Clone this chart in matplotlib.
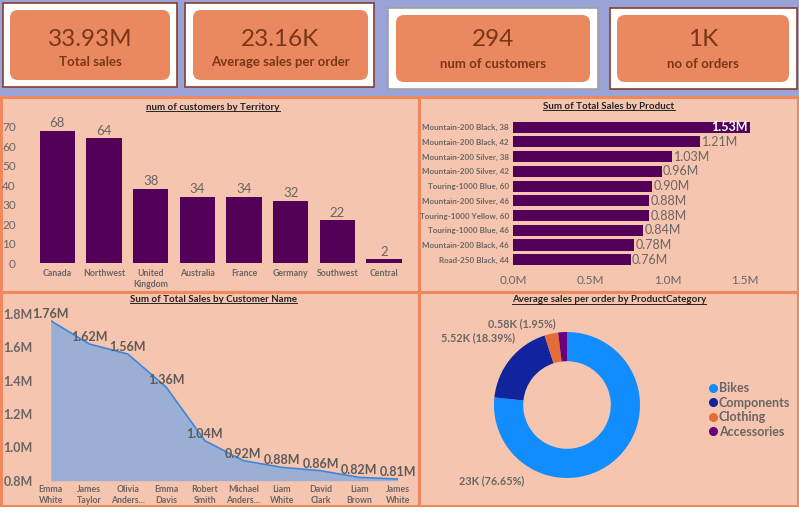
import numpy as np
import matplotlib
matplotlib.use('Agg')
import matplotlib.pyplot as plt
from matplotlib.patches import Rectangle, FancyBboxPatch
from matplotlib.lines import Line2D

# KPI cards
card_values = ['33.93M', '23.16K', '294', '1K']
card_labels = ['Total sales', 'Average sales per order', 'num of customers', 'no of orders']

# num of customers by Territory
territories = ['Canada', 'Northwest', 'United\nKingdom', 'Australia', 'France',
               'Germany', 'Southwest', 'Central']
customers = [68, 64, 38, 34, 34, 32, 22, 2]

# Sum of Total Sales by Product (M)
products = ['Mountain-200 Black, 38', 'Mountain-200 Black, 42', 'Mountain-200 Silver, 38',
            'Mountain-200 Silver, 42', 'Touring-1000 Blue, 60', 'Mountain-200 Silver, 46',
            'Touring-1000 Yellow, 60', 'Touring-1000 Blue, 46', 'Mountain-200 Black, 46',
            'Road-250 Black, 44']
product_sales = [1.53, 1.21, 1.03, 0.96, 0.90, 0.88, 0.88, 0.84, 0.78, 0.76]

# Sum of Total Sales by Customer Name (M)
cust_names = ['Emma\nWhite', 'James\nTaylor', 'Olivia\nAnders...', 'Emma\nDavis', 'Robert\nSmith',
              'Michael\nAnders...', 'Liam\nWhite', 'David\nClark', 'Liam\nBrown', 'James\nWhite']
cust_sales = [1.76, 1.62, 1.56, 1.36, 1.04, 0.92, 0.88, 0.86, 0.82, 0.81]

# Average sales per order by ProductCategory
categories = ['Bikes', 'Components', 'Clothing', 'Accessories']
avg_sales = [23.0, 5.52, 0.90, 0.58]   # K
share = [76.65, 18.39, 3.01, 1.95]      # %

LAVENDER = '#9AA3D8'
PEACH = '#F5C5AF'
ORANGE = '#EE885E'
CARD = '#EA8960'
BROWN = '#7B3618'
PURPLE = '#520058'
GRAY = '#6B6563'
DARK = '#252423'
cat_colors = ['#118DFF', '#12239E', '#E66C37', '#6B007B']

plt.rcParams['font.family'] = ['Lato', 'DejaVu Sans']

W, H = 799, 511
fig = plt.figure(figsize=(W / 100, H / 100), dpi=100)
fig.patch.set_facecolor(LAVENDER)
bg = fig.add_axes([0, 0, 1, 1])
bg.set_xlim(0, W)
bg.set_ylim(H, 0)
bg.axis('off')


def px_axes(x0, y0, x1, y1):
    ax = fig.add_axes([x0 / W, 1 - y1 / H, (x1 - x0) / W, (y1 - y0) / H])
    ax.set_facecolor('none')
    for s in ax.spines.values():
        s.set_visible(False)
    return ax


# ---- cards
outer = [(3, 3, 177, 87), (185, 3, 374, 87), (388, 8, 598, 89), (610, 8, 797, 89)]
inner = [(10, 10, 170, 80), (193, 10, 368, 80), (396, 15, 590, 82), (617, 15, 789, 82)]
frame_edge = ['#8A3E2E', '#8A3E2E', '#A0A0A0', '#8A3E2E']
for i in range(4):
    x0, y0, x1, y1 = outer[i]
    bg.add_patch(Rectangle((x0, y0), x1 - x0, y1 - y0, facecolor='white',
                           edgecolor=frame_edge[i], lw=1.2))
    x0, y0, x1, y1 = inner[i]
    bg.add_patch(FancyBboxPatch((x0, y0), x1 - x0, y1 - y0,
                                boxstyle='round,pad=0,rounding_size=8',
                                facecolor=CARD, edgecolor='none'))
    cx = (x0 + x1) / 2
    bg.text(cx, 40, card_values[i], ha='center', va='center', fontsize=17.5, color=BROWN)
    bg.text(cx, 62 if i < 2 else 64, card_labels[i], ha='center', va='center',
            fontsize=9.5, color=BROWN, fontweight='bold')

# ---- panels
panels = [(1, 97, 419, 292), (419, 97, 798, 292), (1, 292, 419, 506), (419, 292, 798, 506)]
for x0, y0, x1, y1 in panels:
    bg.add_patch(Rectangle((x0, y0), x1 - x0, y1 - y0, facecolor=PEACH,
                           edgecolor=ORANGE, lw=2.2))
bg.add_patch(Rectangle((0, 507), W, 5, facecolor='white', edgecolor='none'))

titles = []
for x, y, s in [(213, 107, 'num of customers by Territory'),
                (609, 106.5, 'Sum of Total Sales by Product'),
                (213, 299, 'Sum of Total Sales by Customer Name'),
                (609, 300, 'Average sales per order by ProductCategory')]:
    titles.append(bg.text(x, y, s, ha='center', va='center', fontsize=7,
                          fontweight='bold', color=DARK))

# ---- bar chart
ax1 = px_axes(34, 122.8, 407.4, 263)
xs = np.arange(len(customers))
ax1.bar(xs, customers, width=0.755, color=PURPLE)
ax1.set_xlim(-0.5, 7.5)
ax1.set_ylim(0, 72)
ax1.set_yticks(range(0, 71, 10))
ax1.set_xticks(xs)
ax1.set_xticklabels(territories, fontsize=6.3, fontweight='bold', color=GRAY, linespacing=1.3)
ax1.tick_params(axis='x', length=0, pad=4)
ax1.tick_params(axis='y', length=0, pad=13, labelsize=8.5, labelcolor=GRAY)
for x, v in zip(xs, customers):
    ax1.text(x, v + 0.8, str(v), ha='center', va='bottom', fontsize=9.5, color=GRAY)

# ---- horizontal bar chart
ax2 = px_axes(513, 119.8, 776, 267.1)
ys = np.arange(len(product_sales))
ax2.barh(ys, product_sales, height=0.75, color=PURPLE)
ax2.set_ylim(9.5, -0.5)
ax2.set_xlim(0, 1.7)
ax2.set_yticks(ys)
ax2.set_yticklabels(products, fontsize=5.8, fontweight='bold', color=GRAY)
ax2.set_xticks([0, 0.5, 1.0, 1.5])
ax2.set_xticklabels(['0.0M', '0.5M', '1.0M', '1.5M'], fontsize=8.5, color=GRAY)
ax2.tick_params(axis='y', length=0, pad=3)
ax2.tick_params(axis='x', length=0, pad=6)
for y, v in zip(ys, product_sales):
    if y == 0:
        ax2.text(v - 0.01, y, f'{v:.2f}M', ha='right', va='center', fontsize=9,
                 color='white', fontweight='bold')
    else:
        ax2.text(v + 0.01, y, f'{v:.2f}M', ha='left', va='center', fontsize=9, color=GRAY)

# ---- area chart
ax3 = px_axes(50.7, 314, 397.7, 480.7)
xc = np.arange(len(cust_sales))
ax3.fill_between(xc, cust_sales, 0.8, color='#9BAFD5', lw=0)
ax3.plot(xc, cust_sales, color='#3F86DA', lw=1.2)
ax3.set_xlim(0, 9)
ax3.set_ylim(0.8, 1.8)
ax3.set_yticks([0.8, 1.0, 1.2, 1.4, 1.6, 1.8])
ax3.set_yticklabels(['0.8M', '1.0M', '1.2M', '1.4M', '1.6M', '1.8M'], fontsize=9,
                    fontweight='bold', color=GRAY)
ax3.set_xticks(xc)
ax3.set_xticklabels(cust_names, fontsize=6.3, fontweight='bold', color=GRAY, linespacing=1.3)
ax3.tick_params(axis='y', length=0, pad=13)
ax3.tick_params(axis='x', length=0, pad=3)
for x, v in zip(xc, cust_sales):
    ax3.annotate(f'{v:.2f}M', (x, v), xytext=(0, 5), textcoords='offset points',
                 ha='center', va='center', fontsize=9, color='#5F5A58',
                 fontweight='bold', annotation_clip=False)

# ---- donut
ax4 = px_axes(494, 332, 640, 478)
ax4.pie(share, colors=cat_colors, startangle=90, counterclock=False,
        wedgeprops=dict(width=0.4, edgecolor='none'))
ax4.set_xlim(-1, 1)
ax4.set_ylim(-1, 1)
ax4.set_aspect('equal')

donut_lbl = [f'{a:g}K ({p:.2f}%)' for a, p in zip(avg_sales, share)]
bg.text(524, 481, donut_lbl[0], ha='right', va='center', fontsize=7.8, color=GRAY, fontweight='bold')
bg.text(515, 338, donut_lbl[1], ha='right', va='center', fontsize=7.8, color=GRAY, fontweight='bold')
bg.text(556, 324, donut_lbl[3], ha='right', va='center', fontsize=7.8, color=GRAY, fontweight='bold')

handles = [Line2D([], [], marker='o', ls='', color=c, markersize=5.5) for c in cat_colors]
fig.legend(handles, categories, loc='upper left', bbox_to_anchor=(702 / W, 1 - 376 / H),
           frameon=False, handletextpad=0.05, labelspacing=0.2,
           handlelength=0.8, borderpad=0, labelcolor=GRAY, prop={'weight': 'bold', 'size': 9})

# underline the titles
fig.canvas.draw()
r = fig.canvas.get_renderer()
inv = bg.transData.inverted()
for t in titles:
    bb = t.get_window_extent(r)
    (xa, ya), (xb, yb) = inv.transform([[bb.x0, bb.y0], [bb.x1, bb.y1]])
    bg.plot([xa, xb], [ya - 0.5, ya - 0.5], color=DARK, lw=0.7)

fig.savefig('out.png', dpi=100, facecolor=fig.get_facecolor())
